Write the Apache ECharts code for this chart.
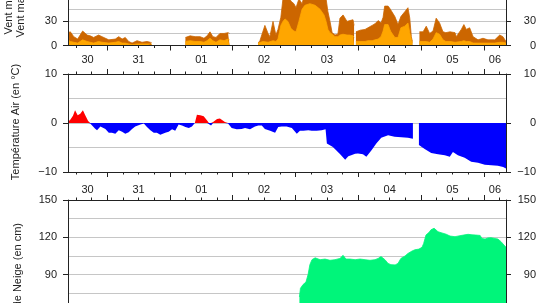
<!DOCTYPE html>
<html><head><meta charset="utf-8">
<script src="https://cdn.jsdelivr.net/npm/echarts@6/dist/echarts.min.js"></script>
<style>html,body{margin:0;padding:0;background:#fff}#c{width:538px;height:303px}</style>
</head><body><div id="c"></div>
<script>
// Time in hours since 30 Dec 00:00
const dayLabels = ["30","31","01","02","03","04","05","06"];
const dayLabelHours = [16.5, 36, 60, 84, 108, 132, 156, 172.25];
const majorTickHours = [24, 48, 72, 96, 120, 144, 168];
const minorTickHours = [12,18,30,36,42,54,60,66,78,84,90,102,108,114,126,132,138,150,156,162,174];

const windHours = [
  9.0, 9.9, 11.2, 12.7, 14.6, 16.3, 17.5, 18.8, 20.7, 22.0, 24.6, 27.1, 28.4, 29.7, 30.9, 32.2, 33.5, 35.4, 37.3, 39.2, 40.5, 41.1,
  47,
  53.9, 55.7, 57.6, 59.5, 61.0, 62.2, 63.3, 64.4, 65.6, 67.1, 68.7, 70.2, 70.8,
  76,
  81.7, 82.4, 83.6, 84.3, 85.5, 86.2, 87.4, 88.5, 89.3, 90.4, 91.2, 92.0, 93.1, 94.3, 95.4, 96.2, 97.3, 98.5, 99.6, 101.5, 103.5, 105.4, 106.9, 107.7, 108.4, 109.2, 110.0, 111.1, 112.2, 113.0, 114.2, 115.7, 116.8, 118.0, 118.4,
  118.7,
  119.1, 120.7, 122.6, 123.7, 125.3, 126.4, 127.6, 128.7, 129.5, 130.1, 130.6, 131.4, 132.1, 132.5, 134.0, 135.2, 136.3, 137.8, 139.0, 139.7, 140.3, 140.7,
  142,
  143.4, 144.8, 146.0, 147.3, 148.6, 149.8, 151.1, 152.4, 153.5, 155.1, 157.0, 157.5, 159.4, 160.4, 161.3, 162.6, 163.9, 165.8, 167.7, 169.6, 172.2, 174.1, 175.3, 176.5
];
const windMax = [
  16, 17, 11, 8, 18, 13, 12, 10, 13, 11, 7, 8, 11, 8, 10, 5, 3, 6, 4, 5, 4, 3,
  null,
  10, 12, 11, 11, 9, 12, 17, 11, 10, 15, 15, 16, 15,
  null,
  3, 6, 18, 25, 15, 11, 30, 13, 20, 35, 58, 66, 62, 55, 52, 47, 58, 52, 65, 72, 75, 70, 62, 58, 42, 30, 16, 13, 14, 34, 38, 30, 31, 32, 25,
  null,
  17, 19, 20, 22, 25, 27, 31, 28, 35, 49, 51, 49, 46, 45, 36, 26, 36, 42, 47, 34, 11, 5,
  null,
  17, 17, 24, 15, 18, 34, 28, 17, 16, 17, 16, 11, 20, 26, 20, 22, 11, 7, 9, 7, 7, 13, 11, 5
];
const windMean = [
  7, 5, 4, 3, 7, 5, 4, 3, 5, 4, 3, 4, 5, 3, 3, 2, 1, 2, 2, 2, 2, 1,
  null,
  5, 6, 5, 5, 4, 6, 9, 6, 4, 7, 6, 8, 7,
  null,
  3, 3, 5, 6, 4, 4, 6, 5, 8, 25, 30, 33, 30, 21, 18, 17, 30, 45, 50, 52, 50, 45, 38, 30, 20, 16, 14, 11, 11, 13, 14, 13, 13, 12, 10,
  null,
  5, 5, 5, 6, 6, 7, 8, 11, 18, 26, 28, 26, 20, 17, 10, 10, 22, 24, 28, 16, 8, 3,
  null,
  5, 5, 5, 4, 8, 16, 14, 7, 5, 5, 4, 4, 5, 6, 5, 5, 3, 3, 3, 3, 3, 4, 4, 3
];

const tempHours = [
  9.0, 9.8, 10.9, 11.7, 12.7, 13.7, 14.7, 15.6, 16.7, 17.5, 18.2, 19.3, 20.1, 21.4, 22.0, 23.3, 24.6, 25.8, 27.1, 28.4,
  29.7, 30.9, 32.2, 33.5, 34.7, 36.7, 38.0, 39.2, 40.5, 41.8, 43.0, 44.3, 45.0, 46.2, 47.5, 48.8, 50.0, 51.3, 52.6, 53.9,
  55.2, 56.4, 57.5, 58.3, 59.6, 60.9, 62.2, 62.9, 63.7, 64.5, 66.0, 67.1, 69.0, 70.2, 71.6, 73.5, 75.4, 76.7, 78.6, 80.5,
  81.8, 83.1, 84.3, 86.3, 88.2, 89.4, 90.7, 92.6, 94.6, 96.5, 97.7, 99.0, 100.9, 102.2, 104.1, 106.0, 107.5, 108.0, 110.3, 112.9,
  115.0, 116.2, 117.3, 118.8, 119.9, 121.8, 123.1, 125.0, 126.9, 128.8, 131.4, 133.9, 136.5, 139.0, 140.9, 141.8,
  143.2, 145.4, 147.9, 150.5, 153.1, 155.0, 156.2, 158.1, 160.7, 163.2, 165.8, 168.4, 170.9, 173.4, 175.4, 176.5
];
const tempValues = [
  0.3, 0.6, 1.5, 2.6, 1.6, 1.9, 2.6, 1.6, 0.4, -0.1, -0.5, -1.1, -1.5, -0.7, -0.5, -1.2, -2.0, -2.0, -2.2, -1.5,
  -1.8, -2.2, -1.9, -1.2, -0.7, -0.3, -0.1, -0.8, -1.5, -2.0, -2.0, -2.4, -2.4, -2.0, -1.8, -1.3, -1.6, -0.3, -0.5, -0.8,
  -1.0, -0.7, 0.0, 1.7, 1.6, 1.4, 0.5, -0.2, -0.5, 0.2, 0.8, 0.9, 0.2, -0.1, -1.0, -1.3, -1.2, -1.0, -1.3, -0.7,
  -0.5, -0.5, -1.2, -1.6, -2.0, -0.8, -0.7, -0.7, -1.0, -2.2, -1.6, -1.6, -1.5, -1.6, -1.6, -1.5, -1.3, -4.2, -4.9, -6.3,
  -7.5, -6.8, -6.6, -6.3, -6.2, -6.4, -6.9, -5.6, -4.2, -3.0, -2.5, -2.8, -2.9, -3.0, -3.2, null,
  -4.5, -5.3, -6.1, -6.4, -6.6, -6.9, -5.9, -6.6, -7.1, -7.9, -8.1, -8.5, -8.6, -8.7, -9.0, -9.3
];

const snowHours = [
  97.5, 97.9, 98.9, 100.0, 100.8, 101.5, 102.3, 103.5, 105.4, 107.3, 109.2, 111.1, 113.0, 114.2, 115.3, 116.8, 118.8, 120.7, 122.6, 124.5,
  126.4, 127.6, 128.7, 130.2, 131.4, 132.5, 134.1, 135.2, 136.3, 137.9, 139.0, 140.6, 141.7, 143.2, 144.4, 145.0, 145.9, 147.1, 147.8, 149.0,
  149.7, 150.5, 152.0, 153.6, 155.1, 157.0, 158.9, 160.8, 162.0, 163.5, 165.0, 166.6, 167.3, 168.5, 169.6, 170.8, 172.3, 173.4, 174.6, 175.7, 176.5
];
const snowValues = [
  72, 79, 82, 84, 90, 98, 102, 103.5, 102, 102.5, 101.5, 102, 103, 105.5, 102.5, 102.5, 102, 102.5, 102, 101.5,
  102, 103, 104.5, 102, 99, 98, 97.8, 99, 103, 105, 107, 109, 110, 110.5, 112, 115, 121.8, 124, 126, 127.3,
  126, 124.5, 123.5, 122.5, 121, 120.5, 121.3, 122, 122.4, 122, 121.8, 121.5, 119, 118.6, 119.5, 119.7, 119, 118.6, 116.5, 113.8, 112
];

const FONT = "'Liberation Sans', Arial, Helvetica, sans-serif";
const AX = '#222', GRIDC = '#c6c6c6', TXT = '#222';
const X_MIN = 9, X_MAX = 176.5;

const grids = [
  {left: 68, right: 32, top: -51, height: 96.5, outerBoundsMode: 'none', containLabel: false},
  {left: 68, right: 32, top: 74, height: 98, outerBoundsMode: 'none', containLabel: false},
  {left: 68, right: 32, top: 200, height: 186.5, outerBoundsMode: 'none', containLabel: false}
];
const yRanges = [[0, 120, 30], [-10, 10, 10], [0, 150, 30]];
const xLabelMargins = [9, 12, 12];

function fmtY(v) { return v < 0 ? '\u2212' + (-v) : String(v); }
function fmtDay(v) {
  let best = 0;
  for (let i = 1; i < dayLabelHours.length; i++) {
    if (Math.abs(dayLabelHours[i] - v) < Math.abs(dayLabelHours[best] - v)) best = i;
  }
  return dayLabels[best];
}
function pairs(ts, vs, fn) {
  return ts.map((t, i) => [t, vs[i] == null ? '-' : (fn ? fn(vs[i]) : vs[i])]);
}

const xAxis = [], yAxis = [];
grids.forEach((g, gi) => {
  const base = {type: 'value', gridIndex: gi, min: X_MIN, max: X_MAX, splitLine: {show: false}, z: 3};
  const mk = (pos, ticks, len, line, labels) => Object.assign({}, base, {
    position: pos,
    axisLine: {show: line, onZero: false, lineStyle: {color: AX, width: 1}},
    axisTick: {show: true, inside: false, length: len, customValues: ticks, lineStyle: {color: AX, width: 1}},
    axisLabel: labels ? {show: true, customValues: dayLabelHours, formatter: fmtDay, margin: xLabelMargins[gi],
      color: TXT, fontSize: 11, fontFamily: FONT} : {show: false}
  });
  xAxis.push(mk('bottom', majorTickHours, 5, true, gi < 2));
  xAxis.push(mk('bottom', minorTickHours, 2.5, false, false));
  xAxis.push(mk('top', majorTickHours, 5, true, false));
  xAxis.push(mk('top', minorTickHours, 2.5, false, false));

  const [mn, mx, iv] = yRanges[gi];
  yAxis.push({type: 'value', gridIndex: gi, min: mn, max: mx, interval: iv, position: 'left', z: 0,
    axisLine: {show: false}, axisTick: {show: false}, axisLabel: {show: false},
    splitLine: {show: true, lineStyle: {color: GRIDC, width: 1}},
    minorTick: {show: false, splitNumber: 2},
    minorSplitLine: {show: true, lineStyle: {color: GRIDC, width: 1}}});
  yAxis.push({type: 'value', gridIndex: gi, min: mn, max: mx, interval: iv, position: 'left', z: 3,
    axisLine: {show: true, onZero: false, lineStyle: {color: AX, width: 1}},
    axisTick: {show: true, inside: false, length: 5, lineStyle: {color: AX, width: 1}},
    axisLabel: {show: true, margin: 11, formatter: fmtY, color: TXT, fontSize: 11, fontFamily: FONT},
    splitLine: {show: false}});
  yAxis.push({type: 'value', gridIndex: gi, min: mn, max: mx, interval: iv, position: 'right', z: 3,
    axisLine: {show: true, onZero: false, lineStyle: {color: AX, width: 1}},
    axisTick: {show: true, inside: false, length: 5, lineStyle: {color: AX, width: 1}},
    axisLabel: {show: true, margin: 30, align: 'right', formatter: fmtY, color: TXT, fontSize: 11, fontFamily: FONT},
    splitLine: {show: false}});
});

function area(name, gi, data, color, showLine) {
  return {
    name, type: 'line', xAxisIndex: gi * 4, yAxisIndex: gi * 3, data,
    showSymbol: false, symbol: 'none', connectNulls: false, smooth: false,
    lineStyle: showLine ? {color, width: 0.8} : {color, width: 0, opacity: 0},
    itemStyle: {color},
    areaStyle: {color, opacity: 1},
    z: 2
  };
}

const series = [
  area('Vent max', 0, pairs(windHours, windMax), '#cc6600', true),
  area('Vent moyen', 0, pairs(windHours, windMean), '#ffa600', true),
  area('Temp +', 1, pairs(tempHours, tempValues, v => Math.max(0, v)), '#ff0000', false),
  area('Temp -', 1, pairs(tempHours, tempValues, v => Math.min(0, v)), '#0000ff', false),
  area('Neige', 2, pairs(snowHours, snowValues), '#00f57a', true)
];

const nameStyle = {fill: TXT, fontSize: 11, fontFamily: FONT};
const graphic = [
  {type: 'text', x: 8.5, y: 34.5, rotation: Math.PI / 2,
    style: Object.assign({text: 'Vent moyen (km/h)', textAlign: 'left', textVerticalAlign: 'middle'}, nameStyle)},
  {type: 'text', x: 21, y: 37.5, rotation: Math.PI / 2,
    style: Object.assign({text: 'Vent max (km/h)', textAlign: 'left', textVerticalAlign: 'middle'}, nameStyle)},
  {type: 'text', x: 16, y: 122, rotation: Math.PI / 2,
    style: Object.assign({text: 'Température Air (en °C)', textAlign: 'center', textVerticalAlign: 'middle'}, nameStyle)},
  {type: 'text', x: 17.5, y: 223, rotation: Math.PI / 2,
    style: Object.assign({text: 'Hauteur de Neige (en cm)', textAlign: 'right', textVerticalAlign: 'middle'}, nameStyle)}
];

const chart = echarts.init(document.getElementById('c'), null, {renderer: 'canvas'});
chart.setOption({
  animation: false,
  backgroundColor: '#fff',
  grid: grids,
  xAxis, yAxis, series, graphic
});
</script>
</body></html>
